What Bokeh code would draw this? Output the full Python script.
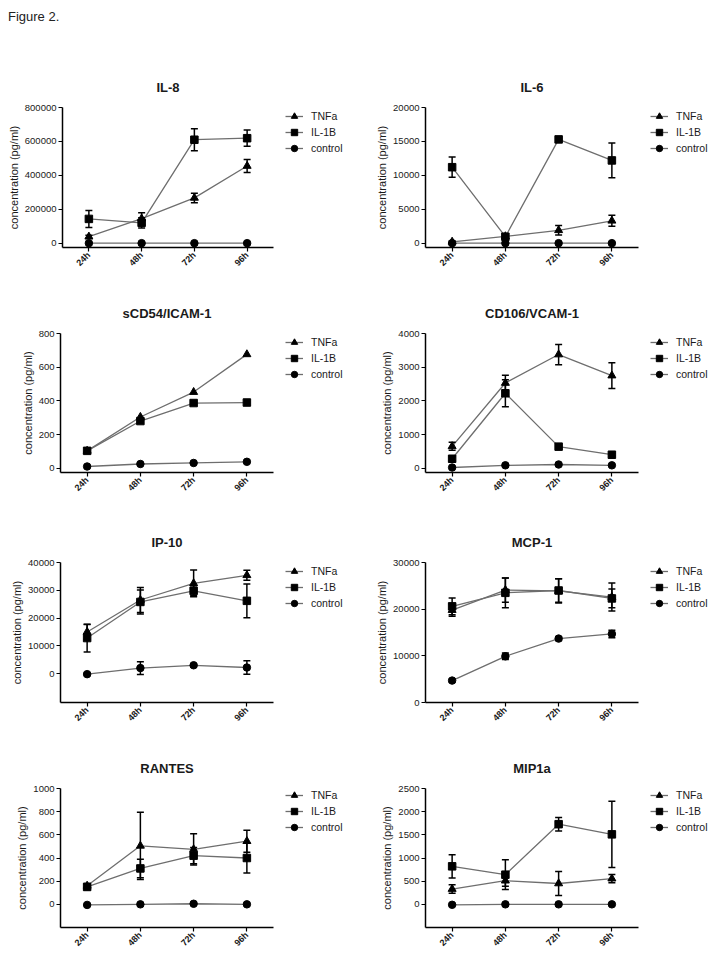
import math
from bokeh.plotting import figure
from bokeh.models import (FactorRange, Range1d, FixedTicker, Legend, LegendItem,
                          Div, BasicTickFormatter, Spacer)
from bokeh.layouts import column, row
from bokeh.embed import file_html
from bokeh.resources import INLINE

times = ["24h", "48h", "72h", "96h"]
series_labels = ["TNFa", "IL-1B", "control"]

# IL-8
il8_tnfa = [38000, 145000, 267000, 455000]
il8_tnfa_err = [8000, 35000, 28000, 38000]
il8_il1b = [143000, 120000, 610000, 619000]
il8_il1b_err = [50000, 30000, 65000, 48000]
il8_ctrl = [0, 0, 0, 0]
il8_ctrl_err = [0, 0, 0, 0]
il8_ticks = [0, 200000, 400000, 600000, 800000]

# IL-6
il6_tnfa = [200, 1000, 1900, 3300]
il6_tnfa_err = [100, 200, 700, 800]
il6_il1b = [11200, 950, 15300, 12200]
il6_il1b_err = [1500, 300, 150, 2550]
il6_ctrl = [0, 0, 0, 0]
il6_ctrl_err = [0, 0, 0, 0]
il6_ticks = [0, 5000, 10000, 15000, 20000]

# sCD54/ICAM-1
icam_tnfa = [103, 304, 452, 676]
icam_tnfa_err = [0, 0, 0, 0]
icam_il1b = [103, 280, 387, 390]
icam_il1b_err = [0, 0, 0, 0]
icam_ctrl = [10, 25, 31, 38]
icam_ctrl_err = [0, 0, 0, 0]
icam_ticks = [0, 200, 400, 600, 800]

# CD106/VCAM-1
vcam_tnfa = [650, 2530, 3375, 2750]
vcam_tnfa_err = [120, 230, 300, 380]
vcam_il1b = [280, 2225, 640, 400]
vcam_il1b_err = [60, 400, 40, 40]
vcam_ctrl = [20, 85, 110, 85]
vcam_ctrl_err = [0, 0, 0, 0]
vcam_ticks = [0, 1000, 2000, 3000, 4000]

# IP-10
ip10_tnfa = [15000, 26500, 32500, 35400]
ip10_tnfa_err = [2700, 4500, 4800, 1800]
ip10_il1b = [12800, 25800, 29800, 26200]
ip10_il1b_err = [5000, 4300, 1800, 6100]
ip10_ctrl = [-200, 2000, 3000, 2200]
ip10_ctrl_err = [300, 2300, 500, 2400]
ip10_ticks = [0, 10000, 20000, 30000, 40000]

# MCP-1
mcp1_tnfa = [19800, 24100, 23900, 22600]
mcp1_tnfa_err = [1300, 2600, 2600, 3000]
mcp1_il1b = [20600, 23500, 24000, 22300]
mcp1_il1b_err = [1800, 3200, 2500, 2000]
mcp1_ctrl = [4700, 9900, 13700, 14700]
mcp1_ctrl_err = [300, 700, 400, 800]
mcp1_ticks = [0, 10000, 20000, 30000]

# RANTES
rantes_tnfa = [160, 505, 475, 545]
rantes_tnfa_err = [20, 290, 135, 95]
rantes_il1b = [150, 310, 420, 400]
rantes_il1b_err = [25, 80, 70, 130]
rantes_ctrl = [-5, 0, 5, 0]
rantes_ctrl_err = [0, 0, 0, 0]
rantes_ticks = [0, 200, 400, 600, 800, 1000]

# MIP1a
mip_tnfa = [330, 510, 450, 555]
mip_tnfa_err = [90, 120, 260, 90]
mip_il1b = [820, 640, 1730, 1510]
mip_il1b_err = [250, 320, 145, 715]
mip_ctrl = [-10, 0, 0, 0]
mip_ctrl_err = [0, 0, 0, 0]
mip_ticks = [0, 500, 1000, 1500, 2000, 2500]

panels = [
    ("IL-8", [il8_tnfa, il8_il1b, il8_ctrl], [il8_tnfa_err, il8_il1b_err, il8_ctrl_err], 0, 800000, il8_ticks),
    ("IL-6", [il6_tnfa, il6_il1b, il6_ctrl], [il6_tnfa_err, il6_il1b_err, il6_ctrl_err], 0, 20000, il6_ticks),
    ("sCD54/ICAM-1", [icam_tnfa, icam_il1b, icam_ctrl], [icam_tnfa_err, icam_il1b_err, icam_ctrl_err], 0, 800, icam_ticks),
    ("CD106/VCAM-1", [vcam_tnfa, vcam_il1b, vcam_ctrl], [vcam_tnfa_err, vcam_il1b_err, vcam_ctrl_err], 0, 4000, vcam_ticks),
    ("IP-10", [ip10_tnfa, ip10_il1b, ip10_ctrl], [ip10_tnfa_err, ip10_il1b_err, ip10_ctrl_err], -10400, 40000, ip10_ticks),
    ("MCP-1", [mcp1_tnfa, mcp1_il1b, mcp1_ctrl], [mcp1_tnfa_err, mcp1_il1b_err, mcp1_ctrl_err], 0, 30000, mcp1_ticks),
    ("RANTES", [rantes_tnfa, rantes_il1b, rantes_ctrl], [rantes_tnfa_err, rantes_il1b_err, rantes_ctrl_err], -200, 1000, rantes_ticks),
    ("MIP1a", [mip_tnfa, mip_il1b, mip_ctrl], [mip_tnfa_err, mip_il1b_err, mip_ctrl_err], -500, 2500, mip_ticks),
]

markers = ["triangle", "square", "circle"]
marker_sizes = [8, 7.5, 7.5]
LINE_GRAY = "#6e6e6e"
FONT = "Liberation Sans"
TXT = "#1a1a1a"

# layout geometry (px)
plot_w = [271, 282]
plot_border = [(56, 2), (67, 2)]
legend_w = [83, 76]
legend_x = [10, 10]
row_h = [252, 228, 227, 209]
row_border = [(69, 43), (43, 46), (44, 43), (42, 26)]
zero_rows = (0, 1)
LEG_ROW = 16


def make_panel(idx):
    title, vals, errs, lo, hi, ticks = panels[idx]
    r, c = divmod(idx, 2)
    bl, br = plot_border[c]
    bt, bb = row_border[r]
    start = -0.032 * hi if (lo == 0 and r in zero_rows) else lo
    p = figure(width=plot_w[c], height=row_h[r],
               x_range=FactorRange(factors=times, range_padding=0),
               y_range=Range1d(start, hi),
               output_backend="svg", toolbar_location=None,
               min_border_left=bl, min_border_right=br,
               min_border_top=bt, min_border_bottom=bb)
    p.title.text = title
    p.title.align = "center"
    p.title.text_font = FONT
    p.title.text_font_size = "13px"
    p.title.text_font_style = "bold"
    p.title.text_color = TXT
    p.title.standoff = 26
    p.outline_line_color = None
    p.xgrid.grid_line_color = None
    p.ygrid.grid_line_color = None

    ya = p.yaxis[0]
    ya.ticker = FixedTicker(ticks=ticks)
    ya.formatter = BasicTickFormatter(use_scientific=False)
    ya.axis_label = "concentration (pg/ml)"
    ya.axis_label_text_font = FONT
    ya.axis_label_text_font_size = "11px"
    ya.axis_label_text_font_style = "normal"
    ya.axis_label_text_color = TXT
    ya.axis_label_standoff = 2
    ya.major_label_text_font = FONT
    ya.major_label_text_font_size = "9.5px"
    ya.major_label_text_color = TXT
    ya.major_label_standoff = 2
    ya.major_tick_out = 4
    ya.major_tick_in = 0
    ya.minor_tick_out = 0
    ya.minor_tick_in = 0
    ya.axis_line_width = 1.5
    ya.major_tick_line_width = 1.2

    xa = p.xaxis[0]
    xa.major_tick_out = 4
    xa.major_tick_in = 0
    xa.axis_line_width = 1.5
    xa.major_tick_line_width = 1.2
    xa.major_label_orientation = math.pi / 4
    xa.major_label_text_font = FONT
    xa.major_label_text_font_size = "9px"
    xa.major_label_text_font_style = "bold"
    xa.major_label_text_color = TXT
    xa.major_label_standoff = 2

    for k in range(3):
        p.line(times, vals[k], line_color=LINE_GRAY, line_width=1.3)
    for k in range(3):
        xs = [t for t, e in zip(times, errs[k]) if e > 0]
        ys = [v for v, e in zip(vals[k], errs[k]) if e > 0]
        es = [e for e in errs[k] if e > 0]
        if xs:
            lows = [v - e for v, e in zip(ys, es)]
            ups = [v + e for v, e in zip(ys, es)]
            p.segment(x0=xs, y0=lows, x1=xs, y1=ups, line_color="black", line_width=1.5)
            p.scatter(x=xs + xs, y=lows + ups, marker="dash", size=7,
                      line_color="black", line_width=1.5)
    for k in range(3):
        p.scatter(times, vals[k], marker=markers[k], size=marker_sizes[k],
                  fill_color="black", line_color="black")

    # legend drawn in its own narrow figure beside the panel
    # (its frame lines up with the panel's frame inside the row);
    # the proxy glyphs there sit outside that figure's visible range
    H = row_h[r]
    fh = H - bt - bb
    lf = figure(width=legend_w[c], height=H, x_range=Range1d(0, 1), y_range=Range1d(0, 1),
                output_backend="svg", toolbar_location=None,
                x_axis_location=None, y_axis_location=None, min_border=0)
    lf.outline_line_color = None
    lf.grid.visible = False
    items = []
    for k in range(3):
        lr = lf.line(x=[5, 6], y=[5, 5], line_color=LINE_GRAY, line_width=1.3)
        mr = lf.scatter(x=[5], y=[5], marker=markers[k], size=marker_sizes[k],
                        fill_color="black", line_color="black")
        items.append(LegendItem(label=series_labels[k], renderers=[lr, mr]))
    leg = Legend(items=items, location=(legend_x[c], fh - 1 - 3 * LEG_ROW),
                 border_line_color=None, background_fill_alpha=0,
                 padding=0, margin=0, spacing=0,
                 label_text_font=FONT, label_text_font_size="10.5px",
                 label_text_color=TXT, label_standoff=8,
                 glyph_width=18, glyph_height=LEG_ROW, label_height=LEG_ROW)
    lf.add_layout(leg, "center")
    return p, lf


built = [make_panel(i) for i in range(8)]

header = Div(text="Figure 2.", width=200, height=38,
             styles={"font-family": FONT, "font-size": "13px", "color": "#222",
                     "padding-top": "8px", "padding-left": "8px",
                     "margin": "0px"})

rows = []
for rr in range(4):
    (pa, la), (pb, lb) = built[2 * rr], built[2 * rr + 1]
    rows.append(row(Spacer(width=4, height=10), pa, la, pb, lb))

layout = column(header, *rows)

open("out.html", "w").write(file_html(layout, INLINE))
